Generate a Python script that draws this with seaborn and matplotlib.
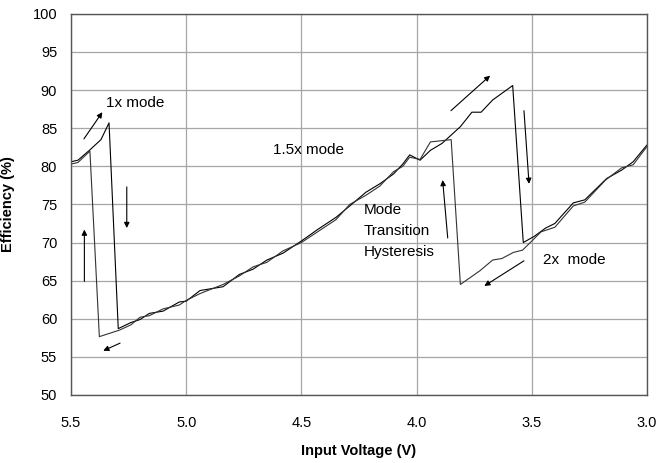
import matplotlib
matplotlib.use("Agg")
import matplotlib.pyplot as plt
import seaborn as sns
import pandas as pd

# sweep with decreasing input voltage (1x -> 1.5x -> 2x)
vin_down = [5.50, 5.47, 5.42, 5.37, 5.335, 5.295, 5.24, 5.20, 5.16, 5.10, 5.03, 5.00,
            4.94, 4.84, 4.77, 4.71, 4.65, 4.58, 4.50, 4.43, 4.35, 4.29, 4.22, 4.16,
            4.10, 4.06, 4.03, 3.985, 3.94, 3.89, 3.81, 3.76, 3.72, 3.67, 3.583, 3.537,
            3.49, 3.44, 3.40, 3.32, 3.27, 3.175, 3.11, 3.06, 3.00]
eff_down = [80.6, 80.8, 82.1, 83.5, 85.7, 58.7, 59.5, 59.9, 60.7, 61.0, 62.2, 62.3,
            63.7, 64.2, 65.8, 66.5, 67.7, 68.6, 70.2, 71.7, 73.3, 74.8, 76.6, 77.7,
            79.0, 80.3, 81.5, 80.8, 82.1, 83.0, 85.2, 87.1, 87.1, 88.7, 90.6, 70.0,
            70.8, 71.9, 72.5, 75.2, 75.6, 78.4, 79.5, 80.6, 82.8]

# sweep with increasing input voltage (2x -> 1.5x -> 1x)
vin_up = [3.00, 3.06, 3.11, 3.18, 3.27, 3.32, 3.40, 3.46, 3.54, 3.58, 3.63, 3.67,
          3.725, 3.81, 3.85, 3.94, 3.985, 4.03, 4.06, 4.10, 4.16, 4.22, 4.29, 4.35,
          4.43, 4.50, 4.58, 4.65, 4.71, 4.77, 4.84, 4.94, 5.00, 5.03, 5.10, 5.16,
          5.20, 5.24, 5.29, 5.377, 5.418, 5.47, 5.50]
eff_up = [82.6, 80.2, 79.8, 78.2, 75.3, 74.8, 72.0, 71.4, 69.0, 68.7, 67.9, 67.7,
          66.3, 64.5, 83.5, 83.2, 80.9, 81.2, 80.0, 79.3, 77.4, 76.2, 75.0, 73.0,
          71.4, 70.0, 68.9, 67.4, 66.8, 65.6, 64.5, 63.3, 62.4, 61.8, 61.3, 60.4,
          60.2, 59.2, 58.5, 57.65, 82.0, 80.5, 80.3]

labels = ["1x mode", "1.5x mode", "Mode\nTransition\nHysteresis", "2x  mode"]
label_pos = [(5.349, 88.3), (4.622, 82.1), (4.228, 71.5), (3.45, 67.7)]

# arrows: (tail, head)
arrows = [((5.444, 83.6), (5.364, 87.1)),
          ((5.258, 77.3), (5.258, 71.9)),
          ((5.442, 64.9), (5.442, 71.7)),
          ((5.287, 56.8), (5.360, 55.8)),
          ((3.851, 87.3), (3.681, 91.9)),
          ((3.534, 87.3), (3.512, 77.7)),
          ((3.865, 70.6), (3.887, 78.2)),
          ((3.534, 67.6), (3.706, 64.3))]

sns.set_style("white")
plt.rcParams["font.family"] = ["Liberation Sans", "DejaVu Sans"]

df_down = pd.DataFrame({"vin": vin_down, "eff": eff_down})
df_up = pd.DataFrame({"vin": vin_up, "eff": eff_up})

fig = plt.figure(figsize=(6.6, 4.63), dpi=100)
ax = fig.add_axes([0.1076, 0.147, 0.8727, 0.823])

sns.lineplot(data=df_down, x="vin", y="eff", sort=False, estimator=None,
             color="black", linewidth=0.8, ax=ax)
sns.lineplot(data=df_up, x="vin", y="eff", sort=False, estimator=None,
             color="#333333", linewidth=0.8, ax=ax)

ax.set_xlim(5.5, 3.0)
ax.set_ylim(50, 100)
ax.set_xticks([5.5, 5.0, 4.5, 4.0, 3.5, 3.0])
ax.set_xticklabels(["5.5", "5.0", "4.5", "4.0", "3.5", "3.0"])
ax.set_yticks(range(50, 101, 5))
ax.grid(True, color="#a6a6a6", linewidth=0.9)
ax.tick_params(axis="both", length=0, labelsize=10.5, colors="black")
ax.tick_params(axis="x", pad=15)
ax.tick_params(axis="y", pad=10)
for s in ax.spines.values():
    s.set_color("#555555")
    s.set_linewidth(1.0)

ax.set_xlabel("Input Voltage (V)", fontsize=10.5, fontweight="bold", labelpad=10,
              color="black")
ax.set_ylabel("Efficiency (%)", fontsize=10.5, fontweight="bold", color="black")
ax.yaxis.set_label_coords(-0.097, 0.5)

for txt, (x, y) in zip(labels, label_pos):
    ax.text(x, y, txt, fontsize=11, ha="left", va="center", linespacing=1.65,
            color="black")

for (x0, y0), (x1, y1) in arrows:
    ax.annotate("", xy=(x1, y1), xytext=(x0, y0),
                arrowprops=dict(arrowstyle="-|>", color="black", lw=0.8,
                                mutation_scale=8, shrinkA=0, shrinkB=0))

fig.savefig("out.png", dpi=100)
